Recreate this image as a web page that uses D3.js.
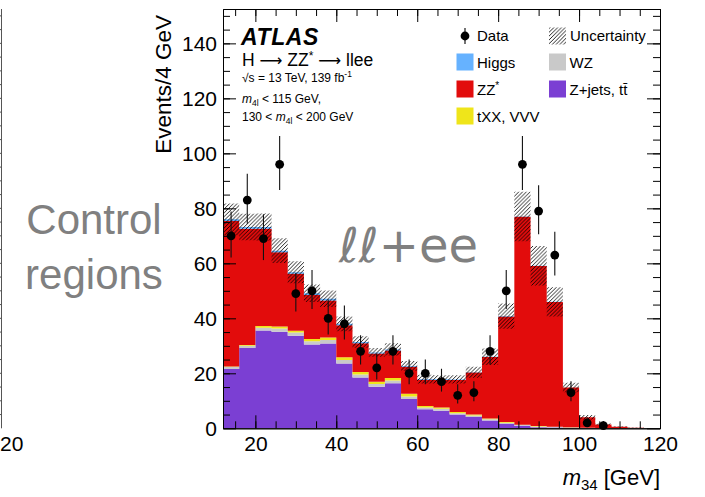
<!DOCTYPE html>
<html><head><meta charset="utf-8">
<script src="https://cdn.jsdelivr.net/npm/d3@7"></script>
<style>
html,body{margin:0;padding:0;background:#fff;}
svg{display:block;font-family:"Liberation Sans",Arial,Helvetica,sans-serif;}
</style></head><body>
<svg id="chart" width="705" height="497"></svg>
<script>
// m34 bin edges (4 GeV bins)
const binEdges = [12,16,20,24,28,32,36,40,44,48,52,56,60,64,68,72,76,80,84,88,92,96,100,104,108,112,116,120];
// observed events per bin (null = empty bin)
const dataCounts = [70,83,69,96,49,50,40,38,28,22,28,20,20,17,12,13,28,50,96,79,63,13,2,1,null,null,null];
// background / signal predictions, stacked bottom to top
const zjets = [21.6,29.2,35.6,35.1,33.7,30.5,30.8,23.6,18.5,15.1,16.4,10.7,6.9,6.4,5.0,4.1,2.8,1.6,0.9,0.4,0.3,0.2,0.1,0.05,0.02,0,0];
const wz    = [0.7,0.8,1.0,1.2,1.1,1.2,1.3,1.2,1.1,1.0,1.0,0.9,0.7,0.7,0.5,0.6,0.5,0.4,0.3,0.3,0.2,0.1,0.1,0.05,0.02,0,0];
const txx   = [0.2,0.3,0.6,0.7,0.7,0.8,0.9,1.0,0.9,0.8,0.9,1.0,0.5,0.5,0.4,0.3,0.3,0.3,0.1,0.1,0.1,0.05,0.03,0.02,0,0,0];
const zz    = [52.9,42.3,35.4,27.0,20.7,16.0,13.5,11.7,10.4,10.3,10.0,9.8,9.6,10.0,11.7,15.3,22.3,38.4,75.6,58.2,45.3,14.45,3.77,1.28,0.56,0.2,0.05];
const higgs = [0.6,0.6,0.6,0.6,0.6,0.6,0.6,0.5,0.5,0.4,0.4,0.3,0.2,0.2,0.15,0.1,0.1,0.1,0.1,0.1,0.1,0.05,0.02,0.01,0,0,0];
// total prediction uncertainty per bin
const uncert = [5.8,4.8,4.9,4.5,4.0,3.2,3.0,2.7,2.1,1.6,2.2,1.8,1.6,1.5,1.5,2.0,3.0,4.6,9.0,7.2,5.3,1.7,0.8,0.3,0.15,0.05,0];

const xMajorTicks = [20,40,60,80,100,120];
const yMajorTicks = [0,20,40,60,80,100,120,140];

const colors = {zjets:"#7b3fd3", wz:"#c9c9c9", txx:"#efe51a", zz:"#e20c0c", higgs:"#66b2ff"};
const keys = ["zjets","wz","txx","zz","higgs"];

const svg = d3.select("#chart");
const X0 = 223, X1 = 660, Y0 = 428.3, Y1 = 9;
const x = d3.scaleLinear().domain([12,120]).range([X0,X1]);
const y = d3.scaleLinear().domain([0,152.5]).range([Y0,Y1]);

// hatch pattern for the uncertainty band
const defs = svg.append("defs");
const H = 3.8;
const pat = defs.append("pattern").attr("id","hatch").attr("patternUnits","userSpaceOnUse")
  .attr("width",H).attr("height",H);
pat.append("path").attr("d",`M-1,1 L1,-1 M0,${H} L${H},0 M${H-1},${H+1} L${H+1},${H-1}`)
  .attr("stroke","#000").attr("stroke-width",0.85);
defs.append("clipPath").attr("id","plotclip").append("rect")
  .attr("x",X0).attr("y",Y1).attr("width",X1-X0).attr("height",Y0-Y1);

// stacked histogram
const rows = binEdges.slice(0,-1).map((lo,i)=>({lo, hi:binEdges[i+1],
  zjets:zjets[i], wz:wz[i], txx:txx[i], zz:zz[i], higgs:higgs[i]}));
const series = d3.stack().keys(keys)(rows);
const area = d3.area().curve(d3.curveStepAfter)
  .x(d=>x(d.x)).y0(d=>y(d.y0)).y1(d=>y(d.y1));
const plot = svg.append("g").attr("clip-path","url(#plotclip)");
series.forEach(s=>{
  const pts = s.map(d=>({x:d.data.lo, y0:d[0], y1:d[1]}));
  const last = s[s.length-1];
  pts.push({x:last.data.hi, y0:last[0], y1:last[1]});
  plot.append("path").attr("d",area(pts)).attr("fill",colors[s.key]);
});

// uncertainty band around the total prediction
const totals = rows.map(r=>keys.reduce((a,k)=>a+r[k],0));
const band = rows.map((r,i)=>({x:r.lo, y0:Math.max(0,totals[i]-uncert[i]), y1:totals[i]+uncert[i]}));
band.push({x:120, y0:band[band.length-1].y0, y1:band[band.length-1].y1});
plot.append("path").attr("d",area(band)).attr("fill","url(#hatch)");

// data points with Poisson error bars
const pointsData = rows.map((r,i)=>({xc:(r.lo+r.hi)/2, n:dataCounts[i]})).filter(d=>d.n!==null);
const dg = svg.append("g");
pointsData.forEach(d=>{
  const s = Math.sqrt(d.n+0.25);
  dg.append("line").attr("x1",x(d.xc)).attr("x2",x(d.xc))
    .attr("y1",y(d.n+0.5+s)).attr("y2",y(Math.max(0,d.n+0.5-s)))
    .attr("stroke","#111").attr("stroke-width",1.1);
  dg.append("circle").attr("cx",x(d.xc)).attr("cy",y(d.n)).attr("r",4.4).attr("fill","#000");
});

// axes: ticks on all four sides, pointing inward
function styleAxis(g){
  g.selectAll("path.domain").attr("stroke","#000").attr("stroke-width",1);
  g.selectAll(".tick line").attr("stroke","#000").attr("stroke-width",1);
  g.selectAll("text").attr("fill","#000").attr("font-size",21)
    .attr("font-family","'Liberation Sans',Arial,sans-serif");
}
const xMinor = d3.range(15,120,5);
const yMinor = d3.range(5,152,5);
svg.append("g").attr("transform",`translate(0,${Y0})`)
  .call(d3.axisBottom(x).tickValues(xMinor).tickSize(-7).tickSizeOuter(0).tickFormat(""))
  .call(styleAxis);
svg.append("g").attr("transform",`translate(0,${Y0})`)
  .call(d3.axisBottom(x).tickValues(xMajorTicks).tickSize(-13).tickSizeOuter(0).tickPadding(8).tickFormat(d3.format("d")))
  .call(styleAxis);
svg.append("g").attr("transform",`translate(0,${Y1})`)
  .call(d3.axisTop(x).tickValues(xMinor).tickSize(-7).tickSizeOuter(0).tickFormat(""))
  .call(styleAxis);
svg.append("g").attr("transform",`translate(0,${Y1})`)
  .call(d3.axisTop(x).tickValues(xMajorTicks).tickSize(-13).tickSizeOuter(0).tickFormat(""))
  .call(styleAxis);
svg.append("g").attr("transform",`translate(${X0},0)`)
  .call(d3.axisLeft(y).tickValues(yMinor).tickSize(-7).tickSizeOuter(0).tickFormat(""))
  .call(styleAxis);
svg.append("g").attr("transform",`translate(${X0},0)`)
  .call(d3.axisLeft(y).tickValues(yMajorTicks).tickSize(-13).tickSizeOuter(0).tickPadding(6).tickFormat(d3.format("d")))
  .call(styleAxis);
svg.append("g").attr("transform",`translate(${X1},0)`)
  .call(d3.axisRight(y).tickValues(yMinor).tickSize(-7).tickSizeOuter(0).tickFormat(""))
  .call(styleAxis);
svg.append("g").attr("transform",`translate(${X1},0)`)
  .call(d3.axisRight(y).tickValues(yMajorTicks).tickSize(-13).tickSizeOuter(0).tickFormat(""))
  .call(styleAxis);

// axis titles
svg.append("text").attr("transform",`translate(171,15) rotate(-90)`)
  .attr("text-anchor","end").attr("font-size",22.5).text("Events/4 GeV");
const xt = svg.append("text").attr("x",X1).attr("y",485).attr("text-anchor","end").attr("font-size",22);
xt.append("tspan").attr("font-style","italic").text("m");
xt.append("tspan").attr("font-size",15).attr("dy",5).text("34");
xt.append("tspan").attr("dy",-5).text(" [GeV]");

// ATLAS label block
svg.append("text").attr("x",241).attr("y",45).attr("font-size",23).attr("font-weight","bold")
  .attr("font-style","italic").attr("letter-spacing",0.6).text("ATLAS");
const arrowFont = "'DejaVu Sans',sans-serif";
const t1 = svg.append("text").attr("x",242).attr("y",66).attr("font-size",17.5);
t1.append("tspan").text("H ");
t1.append("tspan").attr("font-family",arrowFont).attr("font-size",16).text("\u27F6");
t1.append("tspan").text(" ZZ");
t1.append("tspan").attr("font-size",12).attr("dy",-6).text("*");
t1.append("tspan").attr("dy",6).text(" ");
t1.append("tspan").attr("font-family",arrowFont).attr("font-size",16).text("\u27F6");
t1.append("tspan").text(" llee");
const t2 = svg.append("text").attr("x",242).attr("y",82).attr("font-size",12);
t2.append("tspan").text("\u221As = 13 TeV, 139 fb");
t2.append("tspan").attr("font-size",8.5).attr("dy",-5).text("-1");
const t3 = svg.append("text").attr("x",242).attr("y",103).attr("font-size",12);
t3.append("tspan").attr("font-style","italic").text("m");
t3.append("tspan").attr("font-size",8.5).attr("dy",3).text("4l");
t3.append("tspan").attr("dy",-3).text(" < 115 GeV,");
const t4 = svg.append("text").attr("x",242).attr("y",121).attr("font-size",12);
t4.append("tspan").text("130 < ");
t4.append("tspan").attr("font-style","italic").text("m");
t4.append("tspan").attr("font-size",8.5).attr("dy",3).text("4l");
t4.append("tspan").attr("dy",-3).text(" < 200 GeV");

// legend
const lg = svg.append("g").attr("font-size",15);
lg.append("line").attr("x1",465).attr("x2",465).attr("y1",28).attr("y2",44).attr("stroke","#000").attr("stroke-width",1.1);
lg.append("circle").attr("cx",465).attr("cy",36).attr("r",4.4).attr("fill","#000");
lg.append("text").attr("x",477).attr("y",41).text("Data");
lg.append("rect").attr("x",549).attr("y",27.5).attr("width",17).attr("height",17).attr("fill","url(#hatch)");
lg.append("text").attr("x",570).attr("y",41).text("Uncertainty");
const boxes = [
  {k:"higgs", bx:456.5, by:53.5, label:"Higgs"},
  {k:"zz", bx:456.5, by:80.5, label:"ZZ"},
  {k:"txx", bx:456.5, by:107.5, label:"tXX, VVV"},
  {k:"wz", bx:549, by:53.5, label:"WZ"},
  {k:"zjets", bx:549, by:80.5, label:"Z+jets, tt\u0304"}
];
boxes.forEach(b=>{
  lg.append("rect").attr("x",b.bx).attr("y",b.by).attr("width",17).attr("height",17).attr("fill",colors[b.k]);
  const t = lg.append("text").attr("x",b.bx+20.5).attr("y",b.by+14).text(b.label);
  if(b.k==="zz") t.append("tspan").attr("font-size",10).attr("dy",-6).text("*");
});

// channel label
svg.append("text").attr("x",339).attr("y",262).attr("font-size",48).attr("fill","#808080")
  .attr("font-family","'DejaVu Sans',sans-serif").text("\u2113\u2113+ee");

// region label and the neighbouring panel edge
svg.append("text").attr("x",94).attr("y",234).attr("text-anchor","middle").attr("font-size",42).attr("fill","#808080").text("Control");
svg.append("text").attr("x",94).attr("y",289).attr("text-anchor","middle").attr("font-size",42).attr("fill","#808080").text("regions");
const edge = svg.append("g");
edge.append("line").attr("x1",1.5).attr("x2",1.5).attr("y1",Y1).attr("y2",Y0).attr("stroke","#555").attr("stroke-width",1);
yMinor.forEach(v=>edge.append("line").attr("x1",0).attr("x2",1.5).attr("y1",y(v)).attr("y2",y(v)).attr("stroke","#555"));
svg.append("text").attr("x",0).attr("y",451).attr("font-size",21).text("20");
</script>
</body></html>
